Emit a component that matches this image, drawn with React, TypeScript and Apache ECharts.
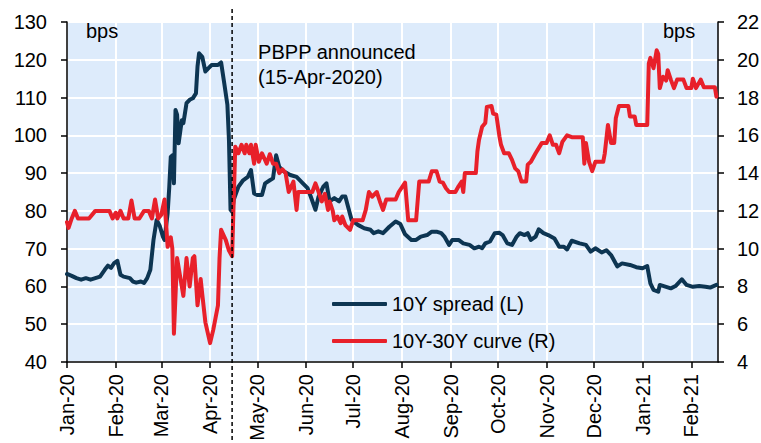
import React, { useEffect, useRef } from 'react';
import * as echarts from 'echarts';

const FONT = '"Liberation Sans", Arial, Helvetica, sans-serif';
const BLUE = '#0D3552';
const RED = '#E8202A';
const PLOT_BG = '#DDEBFB';

const X_START = '2020-01-01';
const X_END = '2021-02-18';
const EVENT_DATE = '2020-04-15';
const EVENT_LABEL = ['PBPP announced', '(15-Apr-2020)'];
const UNIT_LABEL = 'bps';
const MONTH_NAMES = ['Jan', 'Feb', 'Mar', 'Apr', 'May', 'Jun', 'Jul', 'Aug', 'Sep', 'Oct', 'Nov', 'Dec'];
const monthTicks = [
  '2020-01-01', '2020-02-01', '2020-03-01', '2020-04-01', '2020-05-01', '2020-06-01', '2020-07-01',
  '2020-08-01', '2020-09-01', '2020-10-01', '2020-11-01', '2020-12-01', '2021-01-01', '2021-02-01',
];

const SPREAD_NAME = '10Y spread (L)';
const CURVE_NAME = '10Y-30Y curve (R)';

const spread10y: [string, number][] = [
  ['2020-01-01', 63.3], ['2020-01-04', 62.8], ['2020-01-07', 62.2], ['2020-01-10', 61.8], ['2020-01-13', 62.2],
  ['2020-01-16', 61.8], ['2020-01-19', 62.2], ['2020-01-22', 62.6], ['2020-01-25', 64.4], ['2020-01-27', 65.5],
  ['2020-01-29', 64.9], ['2020-01-31', 66.2], ['2020-02-02', 66.8], ['2020-02-04', 63.1], ['2020-02-06', 62.6],
  ['2020-02-10', 62.2], ['2020-02-12', 61.3], ['2020-02-14', 61.0], ['2020-02-17', 61.3], ['2020-02-19', 60.9],
  ['2020-02-21', 62.2], ['2020-02-23', 64.4], ['2020-02-25', 72.3], ['2020-02-27', 77.6], ['2020-02-29', 76.0],
  ['2020-03-02', 73.2], ['2020-03-03', 72.3], ['2020-03-05', 79.4], ['2020-03-06', 86.0], ['2020-03-07', 94.3],
  ['2020-03-08', 94.7], ['2020-03-09', 87.3], ['2020-03-10', 106.7], ['2020-03-11', 105.5], ['2020-03-12', 97.9],
  ['2020-03-14', 104.0], ['2020-03-15', 103.2], ['2020-03-16', 105.8], ['2020-03-17', 108.5], ['2020-03-19', 109.4],
  ['2020-03-21', 109.8], ['2020-03-23', 111.1], ['2020-03-24', 118.2], ['2020-03-25', 121.7], ['2020-03-27', 120.8],
  ['2020-03-29', 116.9], ['2020-03-31', 117.8], ['2020-04-02', 118.6], ['2020-04-06', 118.6], ['2020-04-08', 119.3],
  ['2020-04-10', 113.8], ['2020-04-12', 108.1], ['2020-04-13', 98.8], ['2020-04-14', 80.3], ['2020-04-15', 79.8],
  ['2020-04-16', 82.9], ['2020-04-19', 86.4], ['2020-04-22', 88.1], ['2020-04-25', 89.0], ['2020-04-27', 90.8],
  ['2020-04-29', 84.6], ['2020-05-01', 84.2], ['2020-05-04', 84.2], ['2020-05-06', 87.3], ['2020-05-09', 88.1],
  ['2020-05-11', 88.6], ['2020-05-13', 94.7], ['2020-05-15', 91.6], ['2020-05-18', 90.4], ['2020-05-22', 89.5],
  ['2020-05-26', 89.0], ['2020-05-30', 87.3], ['2020-06-02', 86.0], ['2020-06-04', 83.8], ['2020-06-07', 80.3],
  ['2020-06-09', 83.8], ['2020-06-12', 86.4], ['2020-06-14', 87.3], ['2020-06-16', 82.5], ['2020-06-19', 83.4],
  ['2020-06-22', 82.5], ['2020-06-24', 83.8], ['2020-06-26', 83.8], ['2020-06-28', 80.7], ['2020-06-30', 77.6],
  ['2020-07-04', 76.3], ['2020-07-08', 75.4], ['2020-07-12', 75.0], ['2020-07-14', 74.1], ['2020-07-17', 74.6],
  ['2020-07-20', 74.1], ['2020-07-24', 75.8], ['2020-07-28', 77.2], ['2020-07-31', 76.5], ['2020-08-03', 73.8],
  ['2020-08-07', 72.3], ['2020-08-10', 72.3], ['2020-08-13', 73.2], ['2020-08-17', 73.6], ['2020-08-20', 74.5],
  ['2020-08-23', 74.5], ['2020-08-26', 74.1], ['2020-08-28', 73.2], ['2020-08-31', 71.0], ['2020-09-02', 72.3],
  ['2020-09-06', 72.3], ['2020-09-09', 71.4], ['2020-09-13', 71.0], ['2020-09-16', 70.1], ['2020-09-19', 70.5],
  ['2020-09-21', 70.1], ['2020-09-23', 71.4], ['2020-09-26', 71.9], ['2020-09-29', 74.1], ['2020-10-02', 74.2],
  ['2020-10-04', 73.6], ['2020-10-07', 71.4], ['2020-10-10', 71.0], ['2020-10-13', 73.2], ['2020-10-15', 74.1],
  ['2020-10-18', 73.6], ['2020-10-20', 74.1], ['2020-10-22', 72.3], ['2020-10-25', 73.2], ['2020-10-27', 75.1],
  ['2020-10-30', 74.1], ['2020-11-02', 73.6], ['2020-11-06', 72.7], ['2020-11-09', 70.5], ['2020-11-12', 70.5],
  ['2020-11-14', 69.8], ['2020-11-17', 72.1], ['2020-11-22', 71.4], ['2020-11-26', 71.0], ['2020-11-29', 69.2],
  ['2020-12-02', 70.1], ['2020-12-06', 69.0], ['2020-12-09', 69.6], ['2020-12-12', 68.3], ['2020-12-16', 65.3],
  ['2020-12-19', 66.1], ['2020-12-24', 65.7], ['2020-12-28', 65.1], ['2021-01-01', 64.8], ['2021-01-04', 65.4],
  ['2021-01-06', 60.8], ['2021-01-08', 59.1], ['2021-01-11', 58.6], ['2021-01-12', 60.4], ['2021-01-16', 59.9],
  ['2021-01-19', 59.5], ['2021-01-22', 60.1], ['2021-01-26', 61.9], ['2021-01-29', 60.4], ['2021-02-02', 59.9],
  ['2021-02-06', 60.1], ['2021-02-10', 59.9], ['2021-02-13', 59.7], ['2021-02-17', 60.4],
];

const curve10y30y: [string, number][] = [
  ['2020-01-01', 11.4], ['2020-01-02', 11.1], ['2020-01-04', 11.6], ['2020-01-06', 12.0], ['2020-01-08', 11.6],
  ['2020-01-12', 11.6], ['2020-01-15', 11.6], ['2020-01-19', 12.0], ['2020-01-24', 12.0], ['2020-01-28', 12.0],
  ['2020-01-30', 11.6], ['2020-02-01', 11.9], ['2020-02-02', 11.6], ['2020-02-04', 12.0], ['2020-02-06', 11.6],
  ['2020-02-09', 11.6], ['2020-02-11', 12.55], ['2020-02-13', 11.6], ['2020-02-16', 11.6], ['2020-02-19', 12.0],
  ['2020-02-22', 12.0], ['2020-02-24', 11.6], ['2020-02-26', 12.6], ['2020-02-28', 11.6], ['2020-03-01', 11.8],
  ['2020-03-03', 12.6], ['2020-03-05', 10.1], ['2020-03-07', 10.6], ['2020-03-08', 10.0], ['2020-03-09', 5.5],
  ['2020-03-11', 9.5], ['2020-03-13', 8.5], ['2020-03-15', 7.5], ['2020-03-17', 9.5], ['2020-03-19', 8.0],
  ['2020-03-21', 9.5], ['2020-03-22', 9.6], ['2020-03-24', 7.0], ['2020-03-26', 8.4], ['2020-03-27', 7.6],
  ['2020-03-29', 6.1], ['2020-04-01', 5.0], ['2020-04-03', 5.7], ['2020-04-06', 7.0], ['2020-04-07', 9.5],
  ['2020-04-08', 11.0], ['2020-04-11', 10.45], ['2020-04-13', 9.9], ['2020-04-15', 9.6], ['2020-04-17', 15.4],
  ['2020-04-19', 15.05], ['2020-04-21', 15.5], ['2020-04-23', 15.05], ['2020-04-24', 15.5], ['2020-04-26', 15.05],
  ['2020-04-27', 15.5], ['2020-04-29', 14.5], ['2020-04-30', 15.5], ['2020-05-02', 14.6], ['2020-05-04', 15.05],
  ['2020-05-07', 14.5], ['2020-05-09', 15.0], ['2020-05-11', 14.5], ['2020-05-13', 14.5], ['2020-05-15', 14.0],
  ['2020-05-17', 14.2], ['2020-05-19', 14.0], ['2020-05-21', 13.0], ['2020-05-24', 13.55], ['2020-05-26', 12.05],
  ['2020-05-27', 13.0], ['2020-05-30', 13.0], ['2020-06-02', 13.0], ['2020-06-05', 13.0], ['2020-06-07', 13.46],
  ['2020-06-09', 13.0], ['2020-06-11', 12.5], ['2020-06-13', 12.9], ['2020-06-15', 12.05], ['2020-06-16', 12.5],
  ['2020-06-18', 12.0], ['2020-06-19', 11.5], ['2020-06-21', 11.7], ['2020-06-23', 11.35], ['2020-06-24', 11.7],
  ['2020-06-26', 11.25], ['2020-06-29', 11.0], ['2020-07-01', 11.5], ['2020-07-04', 11.5], ['2020-07-07', 11.5],
  ['2020-07-09', 12.05], ['2020-07-11', 13.0], ['2020-07-13', 12.75], ['2020-07-16', 13.0], ['2020-07-18', 12.5],
  ['2020-07-20', 12.05], ['2020-07-22', 12.6], ['2020-07-25', 12.6], ['2020-07-28', 12.6], ['2020-07-30', 13.0],
  ['2020-08-03', 13.5], ['2020-08-05', 11.5], ['2020-08-10', 11.5], ['2020-08-12', 13.55], ['2020-08-15', 13.55],
  ['2020-08-18', 13.55], ['2020-08-20', 14.1], ['2020-08-23', 14.1], ['2020-08-25', 13.55], ['2020-08-27', 13.5],
  ['2020-08-29', 13.2], ['2020-08-31', 13.0], ['2020-09-04', 13.0], ['2020-09-06', 13.3], ['2020-09-08', 13.55],
  ['2020-09-09', 13.0], ['2020-09-10', 14.0], ['2020-09-13', 14.0], ['2020-09-17', 14.0], ['2020-09-18', 15.15],
  ['2020-09-19', 15.75], ['2020-09-21', 16.45], ['2020-09-23', 16.65], ['2020-09-24', 17.5], ['2020-09-27', 17.55],
  ['2020-09-28', 17.15], ['2020-09-30', 17.1], ['2020-10-02', 15.95], ['2020-10-03', 15.5], ['2020-10-05', 15.05],
  ['2020-10-08', 15.05], ['2020-10-10', 14.7], ['2020-10-12', 14.25], ['2020-10-14', 14.1], ['2020-10-16', 13.55],
  ['2020-10-19', 13.55], ['2020-10-20', 14.45], ['2020-10-22', 14.6], ['2020-10-25', 15.05], ['2020-10-29', 15.6],
  ['2020-11-01', 15.6], ['2020-11-03', 16.0], ['2020-11-05', 15.5], ['2020-11-07', 15.5], ['2020-11-09', 15.05],
  ['2020-11-11', 15.65], ['2020-11-14', 16.0], ['2020-11-17', 15.9], ['2020-11-22', 15.9], ['2020-11-24', 15.9],
  ['2020-11-25', 14.5], ['2020-11-26', 15.6], ['2020-11-28', 14.6], ['2020-11-30', 14.1], ['2020-12-02', 14.6],
  ['2020-12-05', 14.6], ['2020-12-07', 14.6], ['2020-12-08', 15.05], ['2020-12-10', 16.55], ['2020-12-12', 15.6],
  ['2020-12-14', 15.6], ['2020-12-15', 16.9], ['2020-12-17', 17.55], ['2020-12-21', 17.55], ['2020-12-23', 17.55],
  ['2020-12-24', 17.0], ['2020-12-27', 17.0], ['2020-12-28', 16.55], ['2020-12-31', 16.55], ['2021-01-04', 16.55],
  ['2021-01-05', 19.8], ['2021-01-06', 20.1], ['2021-01-08', 19.55], ['2021-01-10', 20.5], ['2021-01-11', 20.3],
  ['2021-01-12', 18.5], ['2021-01-14', 19.1], ['2021-01-16', 18.9], ['2021-01-17', 19.45], ['2021-01-19', 18.95],
  ['2021-01-21', 18.5], ['2021-01-23', 18.95], ['2021-01-27', 18.95], ['2021-01-29', 18.5], ['2021-02-01', 18.5],
  ['2021-02-02', 19.0], ['2021-02-04', 18.5], ['2021-02-07', 18.95], ['2021-02-09', 18.55], ['2021-02-13', 18.55],
  ['2021-02-16', 18.55], ['2021-02-17', 18.05],
];

const LEFT_AXIS = { min: 40, max: 130, interval: 10 };
const RIGHT_AXIS = { min: 4, max: 22, interval: 2 };

const toTs = (s: string) => {
  const [y, m, d] = s.split('-').map(Number);
  return Date.UTC(y, m - 1, d);
};

const fmtMonth = (v: number) => {
  const dt = new Date(v);
  return MONTH_NAMES[dt.getUTCMonth()] + '-' + String(dt.getUTCFullYear()).slice(2);
};

export default function App() {
  const ref = useRef<HTMLDivElement>(null);

  useEffect(() => {
    document.body.style.margin = '0';
    if (!ref.current) return;
    const chart = echarts.init(ref.current, undefined, { renderer: 'svg' });
    const monthTs = monthTicks.map(toTs);
    const axisLineStyle = { color: '#000', width: 1.5 };
    const labelStyle = { color: '#000', fontSize: 20, fontFamily: FONT };

    chart.setOption({
      animation: false,
      textStyle: { fontFamily: FONT },
      grid: {
        left: 67, right: 43, top: 22, bottom: 81,
        show: true, backgroundColor: PLOT_BG, borderWidth: 0,
        outerBoundsMode: 'none', containLabel: false,
      },
      legend: {
        left: 332, top: 294, orient: 'vertical', padding: 0,
        itemWidth: 55, itemHeight: 4, itemGap: 17, icon: 'roundRect',
        textStyle: { ...labelStyle },
        data: [SPREAD_NAME, CURVE_NAME],
      },
      xAxis: {
        type: 'value',
        min: toTs(X_START), max: toTs(X_END),
        axisLine: { show: true, onZero: false, lineStyle: axisLineStyle },
        axisTick: { show: true, length: 6, lineStyle: axisLineStyle, customValues: monthTs },
        axisLabel: { ...labelStyle, customValues: monthTs, rotate: 90, margin: 12, formatter: fmtMonth },
        splitLine: { show: true, lineStyle: { color: '#fff', width: 2 } },
      },
      yAxis: [
        {
          type: 'value', position: 'left', ...LEFT_AXIS,
          axisLine: { show: true, lineStyle: axisLineStyle },
          axisTick: { show: true, length: 6, lineStyle: axisLineStyle },
          axisLabel: { ...labelStyle, margin: 20 },
          splitLine: { show: true, lineStyle: { color: '#fff', width: 2 } },
        },
        {
          type: 'value', position: 'right', ...RIGHT_AXIS,
          axisLine: { show: true, lineStyle: axisLineStyle },
          axisTick: { show: true, length: 6, lineStyle: axisLineStyle },
          axisLabel: { ...labelStyle, margin: 19 },
          splitLine: { show: false },
        },
      ],
      series: [
        {
          name: SPREAD_NAME, type: 'line', yAxisIndex: 0, symbol: 'none',
          data: spread10y.map(([d, v]) => [toTs(d), v]),
          lineStyle: { color: BLUE, width: 4, cap: 'round', join: 'round' },
          itemStyle: { color: BLUE },
        },
        {
          name: CURVE_NAME, type: 'line', yAxisIndex: 1, symbol: 'none',
          data: curve10y30y.map(([d, v]) => [toTs(d), v]),
          lineStyle: { color: RED, width: 4, cap: 'round', join: 'round' },
          itemStyle: { color: RED },
        },
      ],
    });

    const ex = chart.convertToPixel({ xAxisIndex: 0 }, toTs(EVENT_DATE)) as number;
    chart.setOption({
      graphic: [
        {
          type: 'line', z: 100, silent: true,
          shape: { x1: ex, y1: 9, x2: ex, y2: 443 },
          style: { stroke: '#000', lineWidth: 1.5, lineDash: [4, 3] },
        },
        {
          type: 'text', left: 86, top: 21, z: 100,
          style: { text: UNIT_LABEL, fontSize: 20, fontFamily: FONT, fill: '#000' },
        },
        {
          type: 'text', left: 663, top: 21, z: 100,
          style: { text: UNIT_LABEL, fontSize: 20, fontFamily: FONT, fill: '#000' },
        },
        {
          type: 'text', left: ex + 26, top: 39, z: 100,
          style: { text: EVENT_LABEL.join('\n'), fontSize: 20, lineHeight: 25, fontFamily: FONT, fill: '#000' },
        },
      ],
    });

    return () => chart.dispose();
  }, []);

  return <div ref={ref} style={{ width: 761, height: 443 }} />;
}
